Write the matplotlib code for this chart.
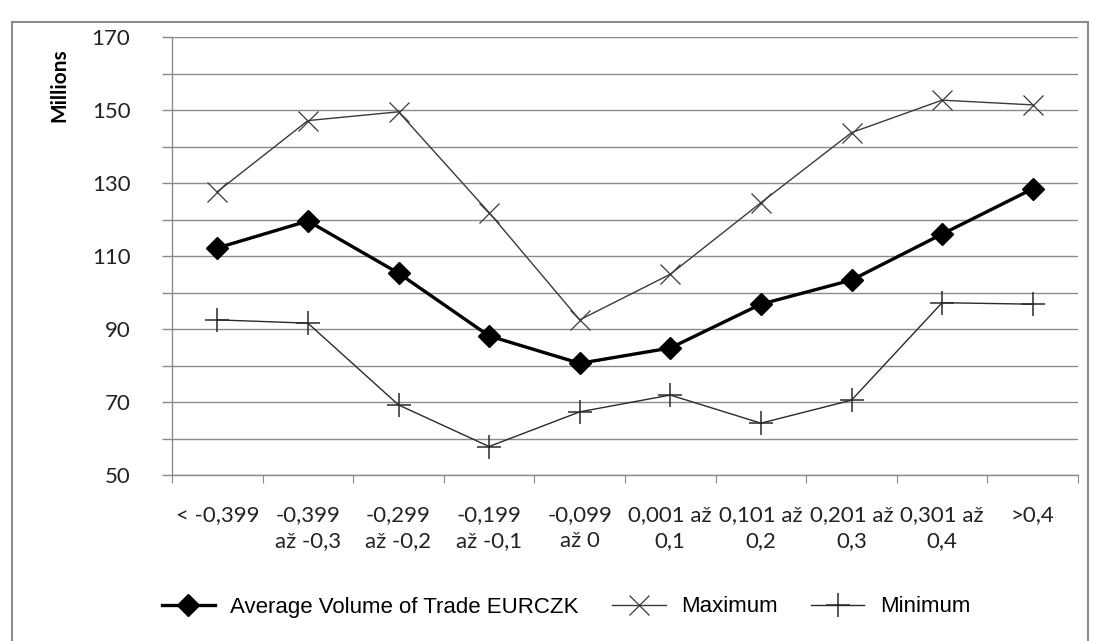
import matplotlib
matplotlib.use("Agg")
import matplotlib.pyplot as plt
from matplotlib.patches import Rectangle

categories = ["< -0,399", "-0,399\naž -0,3", "-0,299\naž -0,2", "-0,199\naž -0,1",
              "-0,099\naž 0", "0,001 až\n0,1", "0,101 až\n0,2", "0,201 až\n0,3",
              "0,301 až\n0,4", ">0,4"]
average = [112.2, 119.6, 105.3, 88.1, 80.6, 84.8, 96.8, 103.4, 116.0, 128.4]
maximum = [127.6, 147.1, 149.5, 121.9, 92.5, 105.0, 124.6, 143.8, 152.7, 151.4]
minimum = [92.5, 91.6, 69.2, 57.8, 67.3, 71.9, 64.2, 70.5, 97.2, 96.8]
yticks = [50, 70, 90, 110, 130, 150, 170]
series_names = ["Average Volume of Trade EURCZK", "Maximum", "Minimum"]

tick_font = ["Lato", "DejaVu Sans"]
legend_font = ["Liberation Sans Narrow", "Liberation Sans", "DejaVu Sans"]

fig = plt.figure(figsize=(10.93, 6.41), dpi=100)
fig.patches.append(Rectangle((12/1093, -0.05), (1088-12)/1093, (641-22)/641 + 0.05,
                             transform=fig.transFigure, fill=False,
                             edgecolor="#8c8c8c", linewidth=1.5))

ax = fig.add_axes([172/1093, 166/641, 906/1093, 438/641])
x = list(range(len(categories)))

ax.plot(x, average, color="black", linewidth=2.4, marker="D", markersize=11,
        label=series_names[0], zorder=4)
ax.plot(x, maximum, color="#3a3a3a", linewidth=1.0, marker="x", markersize=14,
        markeredgewidth=0.9, label=series_names[1], zorder=3)
ax.plot(x, minimum, color="#2a2a2a", linewidth=1.0, marker="+", markersize=17,
        markeredgewidth=1.1, label=series_names[2], zorder=3)

ax.set_xlim(-0.5, len(categories) - 0.5)
ax.set_ylim(50, 170)
ax.set_yticks(yticks)
ax.set_yticks(list(range(60, 170, 20)), minor=True)
ax.yaxis.grid(True, which="both", color="#8a8a8a", linewidth=1.0)
ax.set_axisbelow(True)
ax.tick_params(axis="y", which="both", direction="out", length=7, color="#8a8a8a",
               width=1.0, labelsize=16, pad=23, labelcolor="#222222")
for lab in ax.get_yticklabels():
    lab.set_family(tick_font)

ax.set_xticks([i - 0.5 for i in range(len(categories) + 1)])
ax.set_xticklabels([])
ax.set_xticks(x, minor=True)
ax.set_xticklabels(categories, minor=True, fontsize=16, family=tick_font,
                   color="#222222", linespacing=1.35)
ax.tick_params(axis="x", which="major", direction="out", length=6, color="#8a8a8a")
ax.tick_params(axis="x", which="minor", length=0, pad=22)

for s in ["top", "right"]:
    ax.spines[s].set_visible(False)
for s in ["left", "bottom"]:
    ax.spines[s].set_color("#8a8a8a")
    ax.spines[s].set_linewidth(1.0)

fig.text(59/1093, 1 - 85/641, "Millions", rotation=90, ha="center", va="center",
         fontsize=15, fontweight="bold", family=tick_font)

leg = fig.legend(loc="center", bbox_to_anchor=(566/1093, 1 - 607/641), ncol=3,
                 frameon=False, prop={"family": legend_font, "size": 16},
                 handlelength=2.4, columnspacing=1.5, handletextpad=0.7)

fig.savefig("out.png", dpi=100)
